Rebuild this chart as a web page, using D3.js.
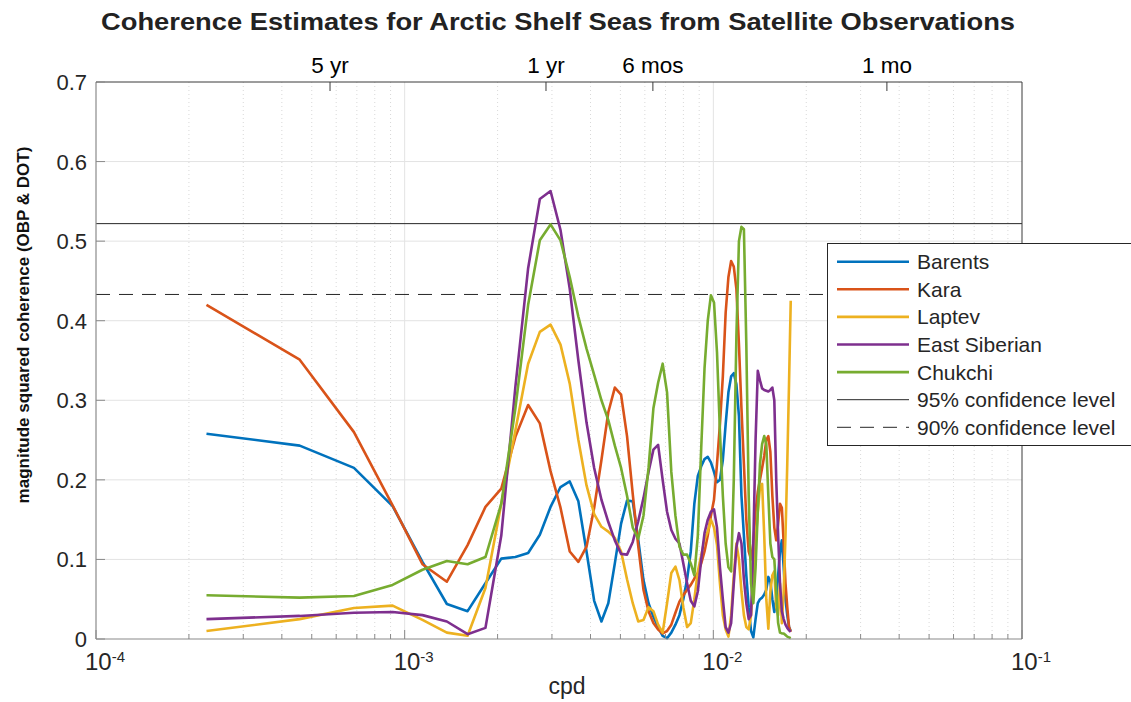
<!DOCTYPE html>
<html>
<head>
<meta charset="utf-8">
<script src="https://cdn.jsdelivr.net/npm/d3@7"></script>
<style>
  html, body { margin: 0; padding: 0; background: #fff; }
  svg { display: block; font-family: "Liberation Sans", Arial, Helvetica, sans-serif; }
</style>
</head>
<body>
<svg id="chart" width="1131" height="702"></svg>
<script>
// Frequency grid (cycles per day)
const freqs = [
  0.000228, 0.000457, 0.000685, 0.000914, 0.001142, 0.001370, 0.001599, 0.001827, 0.002056, 0.002284,
  0.002512, 0.002741, 0.002969, 0.003198, 0.003426, 0.003654, 0.003883, 0.004111, 0.004340, 0.004568,
  0.004796, 0.005025, 0.005253, 0.005482, 0.005710, 0.005938, 0.006167, 0.006395, 0.006624, 0.006852,
  0.007080, 0.007309, 0.007537, 0.007766, 0.007994, 0.008222, 0.008451, 0.008679, 0.008908, 0.009136,
  0.009364, 0.009593, 0.009821, 0.010050, 0.010278, 0.010506, 0.010735, 0.010963, 0.011192, 0.011420,
  0.011648, 0.011877, 0.012105, 0.012334, 0.012562, 0.012790, 0.013019, 0.013247, 0.013476, 0.013704,
  0.013932, 0.014161, 0.014389, 0.014618, 0.014846, 0.015074, 0.015303, 0.015531, 0.015760, 0.015988,
  0.016216, 0.016445, 0.016673, 0.016902, 0.017130, 0.017358, 0.017587, 0.017815
];

// Magnitude squared coherence, OBP vs DOT, per shelf sea
const barents = [
  0.258, 0.243, 0.215, 0.167, 0.097, 0.044, 0.035, 0.070, 0.101, 0.103,
  0.108, 0.131, 0.166, 0.191, 0.198, 0.173, 0.110, 0.048, 0.022, 0.045,
  0.095, 0.145, 0.174, 0.173, 0.125, 0.074, 0.045, 0.028, 0.015, 0.004,
  0.001, 0.008, 0.018, 0.030, 0.050, 0.075, 0.110, 0.170, 0.205, 0.217,
  0.226, 0.229, 0.222, 0.210, 0.197, 0.200, 0.225, 0.270, 0.310, 0.330,
  0.334, 0.320, 0.280, 0.180, 0.130, 0.080, 0.040, 0.010, 0.002, 0.025,
  0.045, 0.050, 0.052, 0.056, 0.062, 0.078, 0.072, 0.050, 0.034, 0.050,
  0.080, 0.110, 0.124, 0.090, 0.050, 0.030, 0.015, 0.010
];
const kara = [
  0.420, 0.351, 0.260, 0.168, 0.094, 0.072, 0.118, 0.166, 0.189, 0.254,
  0.294, 0.271, 0.211, 0.165, 0.110, 0.097, 0.116, 0.165, 0.225, 0.285,
  0.316, 0.307, 0.255, 0.182, 0.117, 0.062, 0.035, 0.020, 0.012, 0.007,
  0.010, 0.018, 0.033, 0.047, 0.055, 0.062, 0.068, 0.076, 0.083, 0.095,
  0.110, 0.130, 0.155, 0.175, 0.220, 0.270, 0.330, 0.410, 0.455, 0.475,
  0.468, 0.440, 0.370, 0.290, 0.220, 0.150, 0.110, 0.100, 0.120, 0.160,
  0.185, 0.200, 0.215, 0.230, 0.250, 0.255, 0.235, 0.180, 0.140, 0.124,
  0.145, 0.170, 0.165, 0.120, 0.070, 0.040, 0.015, 0.009
];
const laptev = [
  0.010, 0.025, 0.039, 0.042, 0.024, 0.008, 0.004, 0.064, 0.170, 0.262,
  0.346, 0.386, 0.395, 0.370, 0.321, 0.250, 0.193, 0.157, 0.141, 0.135,
  0.127, 0.110, 0.075, 0.045, 0.022, 0.024, 0.040, 0.035, 0.018, 0.008,
  0.045, 0.083, 0.091, 0.074, 0.040, 0.015, 0.020, 0.050, 0.085, 0.105,
  0.125, 0.135, 0.150, 0.140, 0.118, 0.070, 0.030, 0.012, 0.003, 0.030,
  0.080, 0.120, 0.100, 0.060, 0.030, 0.015, 0.012, 0.030, 0.070, 0.120,
  0.160, 0.190, 0.195, 0.130, 0.050, 0.013, 0.060, 0.080, 0.085, 0.040,
  0.030, 0.070, 0.020, 0.060, 0.130, 0.220, 0.320, 0.425
];
const eastSiberian = [
  0.025, 0.029, 0.033, 0.034, 0.030, 0.022, 0.006, 0.014, 0.130, 0.317,
  0.466, 0.553, 0.563, 0.514, 0.440, 0.350, 0.272, 0.215, 0.175, 0.147,
  0.124, 0.107, 0.106, 0.122, 0.148, 0.177, 0.210, 0.238, 0.244, 0.200,
  0.160, 0.137, 0.126, 0.120, 0.095, 0.070, 0.048, 0.041, 0.060, 0.100,
  0.133, 0.150, 0.160, 0.163, 0.140, 0.090, 0.050, 0.015, 0.008, 0.020,
  0.070, 0.115, 0.133, 0.120, 0.075, 0.045, 0.025, 0.030, 0.120, 0.250,
  0.337, 0.325, 0.315, 0.313, 0.312, 0.311, 0.313, 0.316, 0.300, 0.200,
  0.130, 0.070, 0.035, 0.025, 0.018, 0.014, 0.011, 0.009
];
const chukchi = [
  0.055, 0.052, 0.054, 0.068, 0.087, 0.098, 0.094, 0.103, 0.170, 0.290,
  0.420, 0.501, 0.521, 0.501, 0.455, 0.405, 0.365, 0.332, 0.300, 0.275,
  0.243, 0.215, 0.180, 0.140, 0.126, 0.155, 0.215, 0.290, 0.322, 0.346,
  0.310, 0.210, 0.155, 0.116, 0.106, 0.106, 0.095, 0.080, 0.130, 0.240,
  0.340, 0.400, 0.432, 0.423, 0.360, 0.260, 0.180, 0.120, 0.090, 0.085,
  0.200, 0.380, 0.500, 0.518, 0.515, 0.370, 0.180, 0.070, 0.045, 0.090,
  0.160, 0.220, 0.245, 0.255, 0.245, 0.180, 0.120, 0.103, 0.100, 0.060,
  0.020, 0.008, 0.007, 0.007, 0.005, 0.003, 0.002, 0.001
];

const seriesNames = ["Barents", "Kara", "Laptev", "East Siberian", "Chukchi"];
const seriesValues = [barents, kara, laptev, eastSiberian, chukchi];
const seriesColors = ["#0072BD", "#D95319", "#EDB120", "#7E2F8E", "#77AC30"];

// Significance levels
const confidenceLabels = ["95% confidence level", "90% confidence level"];
const confidenceValues = [0.522, 0.433];

// Axis ticks
const yTicks = [0, 0.1, 0.2, 0.3, 0.4, 0.5, 0.6, 0.7];
const xDecades = [1e-4, 1e-3, 1e-2, 1e-1];
const xDecadeExponents = ["-4", "-3", "-2", "-1"];
// Period markers along the top axis (cpd)
const periodTicks = [5.73e-4, 2.87e-3, 6.37e-3, 3.65e-2];
const periodLabels = ["5 yr", "1 yr", "6 mos", "1 mo"];

const title = "Coherence Estimates for Arctic Shelf Seas from Satellite Observations";
const xLabel = "cpd";
const yLabel = "magnitude squared coherence (OBP & DOT)";

const svg = d3.select("#chart");
const plotL = 96, plotR = 1022, plotT = 82, plotB = 639;

const x = d3.scaleLog().domain([1e-4, 1e-1]).range([plotL, plotR]);
const y = d3.scaleLinear().domain([0, 0.7]).range([plotB, plotT]);

const minorTicks = [];
for (let d = 0; d < 3; d++) {
  for (let m = 2; m <= 9; m++) minorTicks.push(m * xDecades[d]);
}

// Grid
const grid = svg.append("g");
grid.selectAll("line.hg").data(yTicks.slice(1, -1)).join("line")
  .attr("x1", plotL).attr("x2", plotR)
  .attr("y1", d => y(d)).attr("y2", d => y(d))
  .attr("stroke", "#e3e3e3").attr("stroke-width", 1);
grid.selectAll("line.vmin").data(minorTicks).join("line")
  .attr("x1", d => x(d)).attr("x2", d => x(d))
  .attr("y1", plotT).attr("y2", plotB)
  .attr("stroke", "#cfcfcf").attr("stroke-width", 0.8)
  .attr("stroke-dasharray", "1,3");
grid.selectAll("line.vmaj").data(xDecades.slice(1, -1)).join("line")
  .attr("x1", d => x(d)).attr("x2", d => x(d))
  .attr("y1", plotT).attr("y2", plotB)
  .attr("stroke", "#e3e3e3").attr("stroke-width", 1);

// Confidence levels
svg.append("g").selectAll("line").data(confidenceValues).join("line")
  .attr("x1", plotL).attr("x2", plotR)
  .attr("y1", d => y(d)).attr("y2", d => y(d))
  .attr("stroke", "#262626").attr("stroke-width", 1)
  .attr("stroke-dasharray", (d, i) => i === 1 ? "14,9" : null);

// Coherence curves
const line = d3.line().x(d => x(d[0])).y(d => y(d[1]));
svg.append("g").selectAll("path").data(seriesValues).join("path")
  .attr("d", vals => line(vals.map((v, i) => [freqs[i], v])))
  .attr("fill", "none")
  .attr("stroke", (d, i) => seriesColors[i])
  .attr("stroke-width", 2.6)
  .attr("stroke-linejoin", "round");

// Axes frame
const axisGray = "#8a8a8a";
const frame = svg.append("g");
frame.append("line").attr("x1", plotL).attr("x2", plotL).attr("y1", plotT).attr("y2", plotB)
  .attr("stroke", axisGray).attr("stroke-width", 1.2);
frame.append("line").attr("x1", plotL).attr("x2", plotR).attr("y1", plotB).attr("y2", plotB)
  .attr("stroke", axisGray).attr("stroke-width", 1.2);
frame.append("line").attr("x1", plotL).attr("x2", plotR).attr("y1", plotT).attr("y2", plotT)
  .attr("stroke", "#3a3a3a").attr("stroke-width", 1);
frame.append("line").attr("x1", plotR).attr("x2", plotR).attr("y1", plotT).attr("y2", plotB)
  .attr("stroke", "#3a3a3a").attr("stroke-width", 1);

// Tick marks
frame.selectAll("line.yt").data(yTicks).join("line")
  .attr("x1", plotL).attr("x2", plotL + 9)
  .attr("y1", d => y(d)).attr("y2", d => y(d))
  .attr("stroke", axisGray).attr("stroke-width", 1);
frame.selectAll("line.xmaj").data(xDecades).join("line")
  .attr("x1", d => x(d)).attr("x2", d => x(d))
  .attr("y1", plotB).attr("y2", plotB - 9)
  .attr("stroke", axisGray).attr("stroke-width", 1);
frame.selectAll("line.xmin").data(minorTicks).join("line")
  .attr("x1", d => x(d)).attr("x2", d => x(d))
  .attr("y1", plotB).attr("y2", plotB - 5)
  .attr("stroke", axisGray).attr("stroke-width", 1);
frame.selectAll("line.pt").data(periodTicks).join("line")
  .attr("x1", d => x(d)).attr("x2", d => x(d))
  .attr("y1", plotT).attr("y2", plotT + 9)
  .attr("stroke", "#3a3a3a").attr("stroke-width", 1);

// Tick labels
const textColor = "#262626";
svg.append("g").selectAll("text").data(yTicks).join("text")
  .attr("x", plotL - 9).attr("y", d => y(d) + 8)
  .attr("text-anchor", "end").attr("font-size", 22).attr("fill", textColor)
  .text(d => d === 0 ? "0" : d.toFixed(1));

const xl = svg.append("g").selectAll("text").data(xDecades).join("text")
  .attr("x", d => x(d) - 11).attr("y", 670)
  .attr("font-size", 24).attr("fill", textColor);
xl.append("tspan").text("10");
xl.append("tspan").attr("font-size", 15).attr("dy", -8).text((d, i) => xDecadeExponents[i]);

svg.append("g").selectAll("text").data(periodTicks).join("text")
  .attr("x", d => x(d)).attr("y", 73)
  .attr("text-anchor", "middle").attr("font-size", 22.5).attr("fill", "#000")
  .text((d, i) => periodLabels[i]);

// Titles
svg.append("text").attr("x", 558).attr("y", 30)
  .attr("text-anchor", "middle").attr("font-size", 24).attr("font-weight", "bold")
  .attr("fill", "#222").attr("textLength", 914).attr("lengthAdjust", "spacingAndGlyphs")
  .text(title);
svg.append("text").attr("x", 567).attr("y", 694)
  .attr("text-anchor", "middle").attr("font-size", 23).attr("fill", textColor)
  .text(xLabel);
svg.append("text").attr("transform", "translate(29,325) rotate(-90)")
  .attr("text-anchor", "middle").attr("font-size", 17).attr("font-weight", "bold")
  .attr("fill", "#111")
  .text(yLabel);

// Legend
const lg = svg.append("g");
lg.append("rect").attr("x", 827.5).attr("y", 243.5).attr("width", 330).attr("height", 202)
  .attr("fill", "#fff").attr("stroke", "#262626").attr("stroke-width", 1);
const legendItems = seriesNames.map((n, i) => ({ name: n, color: seriesColors[i], width: 2.6, dash: null }))
  .concat(confidenceLabels.map((n, i) => ({ name: n, color: "#262626", width: 1, dash: i === 1 ? "14,9" : null })));
const rows = lg.selectAll("g.row").data(legendItems).join("g")
  .attr("transform", (d, i) => `translate(0, ${261.7 + i * 27.6})`);
rows.append("line").attr("x1", 837).attr("x2", 909).attr("y1", 0).attr("y2", 0)
  .attr("stroke", d => d.color).attr("stroke-width", d => d.width)
  .attr("stroke-dasharray", d => d.dash);
rows.append("text").attr("x", 917).attr("y", 7.5)
  .attr("font-size", 21).attr("fill", textColor).text(d => d.name);
</script>
</body>
</html>
